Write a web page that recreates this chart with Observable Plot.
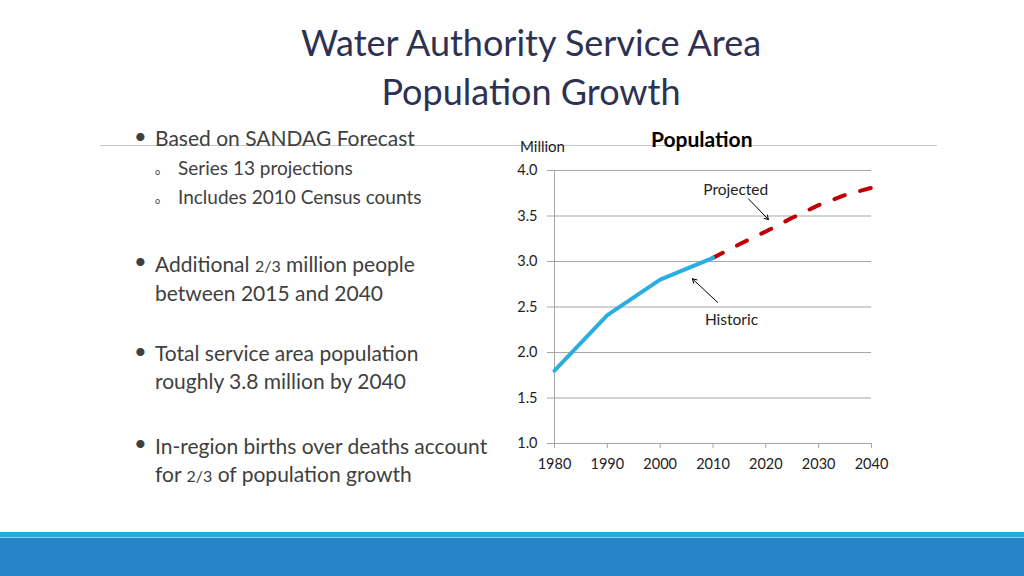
<!DOCTYPE html>
<html><head><meta charset="utf-8">
<script src="https://cdn.jsdelivr.net/npm/d3@7"></script>
<script src="https://cdn.jsdelivr.net/npm/@observablehq/plot@0.6"></script>
<style>
html,body{margin:0;padding:0;background:#fff;}
body{width:1024px;height:576px;position:relative;overflow:hidden;font-family:Lato,"Noto Sans",sans-serif;}
.t{position:absolute;white-space:nowrap;}
.title{left:0;width:1062px;text-align:center;font-size:36px;color:#2d3153;}
.b{font-size:21px;color:#404040;}
.s{font-size:19px;color:#404040;}
.dot{font-size:22px;color:#404040;}
.o{font-size:9px;color:#404040;}
.frac{font-size:16px;}
#hr{position:absolute;left:100px;top:145px;width:837px;height:1px;background:#c8c8c8;}
#bar1{position:absolute;left:0;top:532px;width:1024px;height:5px;background:#22abe2;}
#bar2{position:absolute;left:0;top:537px;width:1024px;height:1px;background:#7fd0f0;}
#bar3{position:absolute;left:0;top:538px;width:1024px;height:38px;background:#2784c6;}
#chart{position:absolute;left:490px;top:120px;}
</style></head>
<body>
<div id="hr"></div>
<div class="t title" style="top:20px;">Water Authority Service Area</div>
<div class="t title" style="top:69px;">Population Growth</div>

<div class="t dot" style="left:134px;top:122px;">•</div>
<div class="t b" style="left:155px;top:125px;">Based on SANDAG Forecast</div>
<div class="t o" style="left:155px;top:166px;">o</div>
<div class="t s" style="left:178px;top:156px;">Series 13 projections</div>
<div class="t o" style="left:155px;top:195px;">o</div>
<div class="t s" style="left:178px;top:185px;">Includes 2010 Census counts</div>

<div class="t dot" style="left:134px;top:247px;">•</div>
<div class="t b" style="left:155px;top:251px;">Additional <span class="frac">2/3</span> million people</div>
<div class="t b" style="left:155px;top:280px;">between 2015 and 2040</div>

<div class="t dot" style="left:134px;top:337px;">•</div>
<div class="t b" style="left:155px;top:340px;">Total service area population</div>
<div class="t b" style="left:155px;top:368px;">roughly 3.8 million by 2040</div>

<div class="t dot" style="left:134px;top:429px;">•</div>
<div class="t b" style="left:155px;top:433px;">In-region births over deaths account</div>
<div class="t b" style="left:155px;top:461px;">for <span class="frac">2/3</span> of population growth</div>

<div class="t" style="left:520px;top:137px;font-size:15px;color:#222;">Million</div>
<div class="t" style="left:651px;top:126px;font-size:21px;font-weight:bold;color:#000;">Population</div>

<div id="chart"></div>
<div id="bar1"></div><div id="bar2"></div><div id="bar3"></div>

<script>
// Data (population, millions)
const historicYears = [1980, 1990, 2000, 2010];
const historicValues = [1.80, 2.41, 2.80, 3.04];
const projectedYears = [2010, 2015, 2020, 2025, 2030, 2035, 2040];
const projectedValues = [3.04, 3.19, 3.33, 3.48, 3.62, 3.73, 3.81];
const yTicks = [1.0, 1.5, 2.0, 2.5, 3.0, 3.5, 4.0];
const xTicks = [1980, 1990, 2000, 2010, 2020, 2030, 2040];
// annotation labels and arrow anchors (data coordinates)
const labelNames = ["Projected", "Historic"];
const labelYears = [2014.3, 2013.5];
const labelValues = [3.79, 2.36];
const arrowFromYears = [2016.7, 2010.9];
const arrowFromValues = [3.69, 2.55];
const arrowToYears = [2020.5, 2006.1];
const arrowToValues = [3.46, 2.81];

const historic = historicYears.map((x, i) => ({x, y: historicValues[i]}));
const projected = projectedYears.map((x, i) => ({x, y: projectedValues[i]}));
const labels = labelNames.map((t, i) => ({t, x: labelYears[i], y: labelValues[i]}));
const arrows = labelNames.map((t, i) => ({x1: arrowFromYears[i], y1: arrowFromValues[i], x2: arrowToYears[i], y2: arrowToValues[i]}));

const chart = Plot.plot({
  width: 410,
  height: 360,
  marginTop: 50,
  marginLeft: 64,
  marginRight: 29,
  marginBottom: 37,
  style: {fontFamily: "Lato, 'Noto Sans', sans-serif", fontSize: "14.5px", color: "#222", background: "transparent"},
  x: {domain: [1980, 2040], label: null},
  y: {domain: [1, 4], label: null},
  marks: [
    Plot.gridY(yTicks, {stroke: "#a6a6a6", strokeOpacity: 1}),
    Plot.ruleX([1980], {stroke: "#a6a6a6"}),
    Plot.ruleY([1], {stroke: "#a6a6a6"}),
    Plot.axisY({ticks: yTicks, tickFormat: ".1f", tickSize: 7, tickPadding: 10, stroke: "#a6a6a6", fill: "#222", label: null}),
    Plot.axisX({ticks: xTicks, tickFormat: "d", tickSize: 5, tickPadding: 10, stroke: "#a6a6a6", fill: "#222", label: null}),
    Plot.line(projected, {x: "x", y: "y", stroke: "#c00000", strokeWidth: 4, strokeDasharray: "11,16", strokeLinecap: "round"}),
    Plot.line(historic, {x: "x", y: "y", stroke: "#2aaee2", strokeWidth: 4}),
    Plot.arrow(arrows, {x1: "x1", y1: "y1", x2: "x2", y2: "y2", stroke: "#000", strokeWidth: 1, headLength: 7, bend: 0}),
    Plot.text(labels, {x: "x", y: "y", text: "t", fontSize: 15.5, fill: "#222"})
  ]
});
document.getElementById("chart").appendChild(chart);
</script>
</body></html>
